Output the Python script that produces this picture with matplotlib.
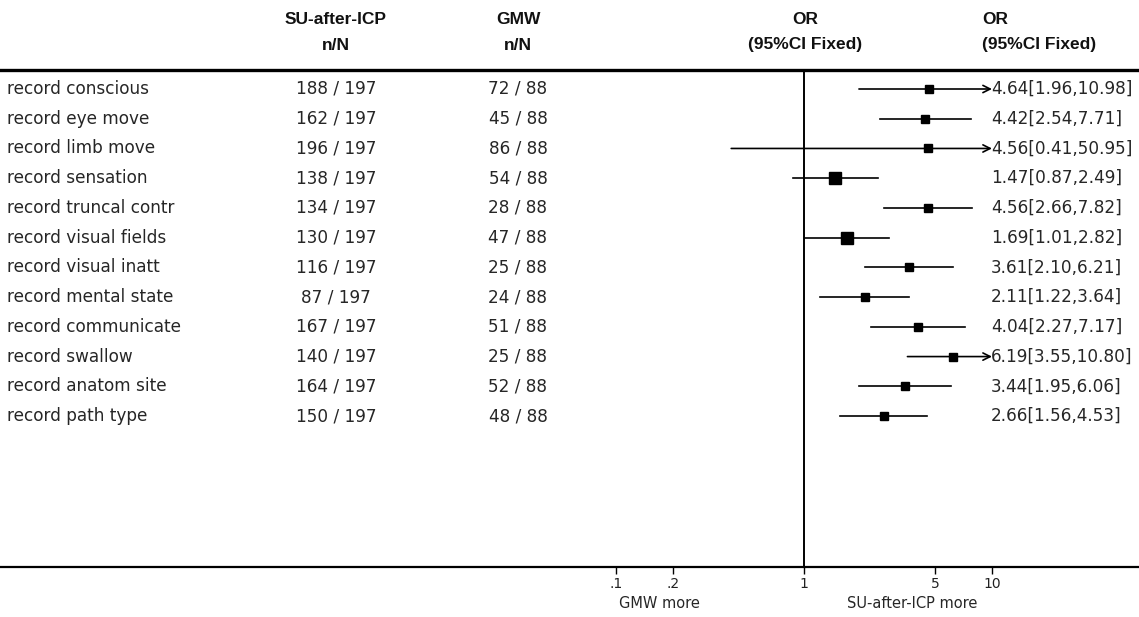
import matplotlib
matplotlib.use('Agg')
import matplotlib.pyplot as plt
import matplotlib.transforms as mtransforms
from matplotlib.lines import Line2D

plt.rcParams['font.family'] = ['DejaVu Sans']

# ===== data =====
outcomes = ['record conscious', 'record eye move', 'record limb move', 'record sensation',
            'record truncal contr', 'record visual fields', 'record visual inatt',
            'record mental state', 'record communicate', 'record swallow',
            'record anatom site', 'record path type']
su_events = [188, 162, 196, 138, 134, 130, 116, 87, 167, 140, 164, 150]
su_total = [197] * 12
gmw_events = [72, 45, 86, 54, 28, 47, 25, 24, 51, 25, 52, 48]
gmw_total = [88] * 12
odds = [4.64, 4.42, 4.56, 1.47, 4.56, 1.69, 3.61, 2.11, 4.04, 6.19, 3.44, 2.66]
ci_low = [1.96, 2.54, 0.41, 0.87, 2.66, 1.01, 2.10, 1.22, 2.27, 3.55, 1.95, 1.56]
ci_high = [10.98, 7.71, 50.95, 2.49, 7.82, 2.82, 6.21, 3.64, 7.17, 10.80, 6.06, 4.53]
tick_vals = [0.1, 0.2, 1, 5, 10]
tick_labels = ['.1', '.2', '1', '5', '10']

W, H = 1139, 617
fig = plt.figure(figsize=(W / 100, H / 100), dpi=100)
fig.patch.set_facecolor('white')

def fx(px):
    return px / W

def fy(py):
    return 1 - py / H

# forest axes: x 0.1..10 -> px 616..992, y px 70..567
ax = fig.add_axes([fx(616), fy(567), fx(992) - fx(616), fy(70) - fy(567)])
ax.set_xscale('log')
ax.set_xlim(0.1, 10)
row0, step = 89, 29.73
ax.set_ylim((567 - row0) / step, (70 - row0) / step)
for s in ax.spines.values():
    s.set_visible(False)
ax.set_yticks([])
ax.set_xticks(tick_vals)
ax.set_xticklabels(tick_labels)
ax.xaxis.set_minor_locator(matplotlib.ticker.NullLocator())
ax.tick_params(axis='x', direction='out', length=5, width=1, labelsize=10, pad=2,
               labelcolor='#222222')
ax.patch.set_alpha(0)

ax.axvline(1, color='black', lw=1.4)

hdr_font = dict(family=['Liberation Sans', 'DejaVu Sans'],
                fontweight='bold', fontsize=12.5, color='#111111')
body_fs = 12.2
body_col = '#262626'

bt = mtransforms.blended_transform_factory(fig.transFigure, ax.transData)

for i in range(len(outcomes)):
    y = i
    # Mantel-Haenszel weight decides the size of the square
    b = su_total[i] - su_events[i]
    c = gmw_events[i]
    w = b * c / (su_total[i] + gmw_total[i])
    ms = 8.0 if w > 10 else 5.8
    hi = min(ci_high[i], 10)
    if ci_high[i] > 10:
        ax.annotate('', xy=(hi, y), xytext=(ci_low[i], y),
                    arrowprops=dict(arrowstyle='->', lw=1.2, color='black',
                                    shrinkA=0, shrinkB=0, mutation_scale=13))
    else:
        ax.plot([ci_low[i], hi], [y, y], color='black', lw=1.2)
    ax.plot(odds[i], y, marker='s', color='black', ms=ms, mec='black')

    fig.text(fx(7), y, outcomes[i], transform=bt, ha='left', va='center',
             fontsize=body_fs, color=body_col)
    fig.text(fx(336), y, f'{su_events[i]} / {su_total[i]}', transform=bt,
             ha='center', va='center', fontsize=body_fs, color=body_col)
    fig.text(fx(518), y, f'{gmw_events[i]} / {gmw_total[i]}', transform=bt,
             ha='center', va='center', fontsize=body_fs, color=body_col)
    fig.text(fx(991), y, f'{odds[i]:.2f}[{ci_low[i]:.2f},{ci_high[i]:.2f}]', transform=bt,
             ha='left', va='center', fontsize=body_fs, color=body_col)

# ===== headers =====
fig.text(fx(336), fy(19), 'SU-after-ICP', ha='center', va='center', **hdr_font)
fig.text(fx(336), fy(45), 'n/N', ha='center', va='center', **hdr_font)
fig.text(fx(518), fy(19), 'GMW', ha='center', va='center', **hdr_font)
fig.text(fx(518), fy(45), 'n/N', ha='center', va='center', **hdr_font)
fig.text(fx(805), fy(19), 'OR', ha='center', va='center', **hdr_font)
fig.text(fx(805), fy(45), '(95%CI Fixed)', ha='center', va='center', **hdr_font)
fig.text(fx(982), fy(19), 'OR', ha='left', va='center', **hdr_font)
fig.text(fx(982), fy(45), '(95%CI Fixed)', ha='left', va='center', **hdr_font)

# ===== rules =====
fig.add_artist(Line2D([0, 1], [fy(70), fy(70)], color='black', lw=2.4))
fig.add_artist(Line2D([0, 1], [fy(567), fy(567)], color='black', lw=1.6))

# ===== footer labels =====
fig.text(fx(659), fy(604), 'GMW more', ha='center', va='center', fontsize=10.5, color=body_col)
fig.text(fx(912), fy(604), 'SU-after-ICP more', ha='center', va='center', fontsize=10.5,
         color=body_col)

fig.savefig('out.png', dpi=100, facecolor='white')
